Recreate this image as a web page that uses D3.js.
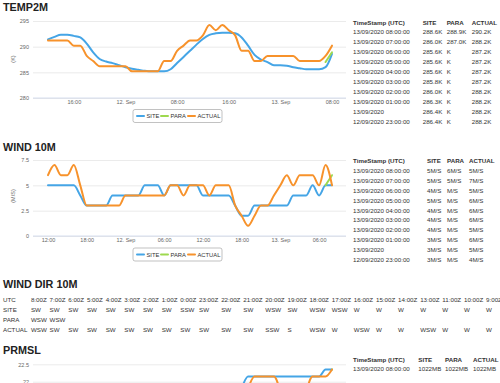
<!DOCTYPE html>
<html>
<head>
<meta charset="utf-8">
<script src="https://cdn.jsdelivr.net/npm/d3@7/dist/d3.min.js"></script>
<style>
body { margin:0; background:#fff; }
svg { display:block; font-family:"Liberation Sans", Arial, sans-serif; }
</style>
</head>
<body>
<svg width="500" height="383"></svg>
<script>
// hourly samples, 11 Sep 12:00 UTC .. 13 Sep 08:00 UTC
var times = d3.utcHour.range(new Date(Date.UTC(2020, 8, 11, 12)), new Date(Date.UTC(2020, 8, 13, 9)));
var seriesNames = ["SITE", "PARA", "ACTUAL"];
var colors = ["#45a5e6", "#9ed94f", "#f7922b"];

// TEMP2M (K)
var tempSite = [291.4, 291.9, 292.3, 292.3, 292.1, 291.8, 290.6, 288.9, 287.6, 287.1, 286.8, 286.4, 286.0,
  285.7, 285.5, 285.3, 285.2, 285.2, 285.2, 285.6, 286.8, 288.0, 289.2, 290.4, 291.5, 292.3, 292.6,
  292.7, 292.7, 292.6, 291.8, 290.2, 288.4, 287.5, 287.0, 286.4, 286.4, 286.3, 286.0, 285.8, 285.6,
  285.6, 285.6, 286.0, 288.6];
var tempPara = [null, null, null, null, null, null, null, null, null, null, null, null, null, null, null,
  null, null, null, null, null, null, null, null, null, null, null, null, null, null, null, null, null,
  null, null, null, null, null, null, null, null, null, null, null, 287.0, 288.9];
var tempActual = [291.2, 291.2, 291.2, 291.2, 290.2, 290.2, 288.2, 287.2, 286.2, 286.2, 286.2, 286.2,
  286.2, 285.2, 285.2, 285.2, 285.2, 285.2, 287.2, 287.2, 289.2, 290.2, 291.2, 291.2, 292.2, 294.2,
  293.2, 294.2, 293.2, 292.2, 289.2, 289.2, 287.2, 287.2, 288.2, 288.2, 288.2, 288.2, 288.2, 287.2,
  287.2, 287.2, 287.2, 288.2, 290.2];
var tempTicks = [280, 285, 290, 295];

// WIND 10M (M/S)
var windSite = [5, 5, 5, 5, 5, 4, 3, 3, 3, 3, 4, 4, 4, 4, 4, 5, 5, 5, 4, 5, 5, 5, 5, 5, 4, 4, 4, 4, 4,
  3, 2, 2, 3, 3, 3, 3, 3, 3, 4, 4, 4, 5, 4, 5, 5];
var windPara = [null, null, null, null, null, null, null, null, null, null, null, null, null, null, null,
  null, null, null, null, null, null, null, null, null, null, null, null, null, null, null, null, null,
  null, null, null, null, null, null, null, null, null, null, null, 5, 6];
var windActual = [6, 7, 6, 6, 7, 5, 3, 3, 3, 3, 3, 3, 4, 4, 4, 4, 4, 4, 4, 5, 5, 4, 5, 5, 5, 4, 5, 5, 5,
  3, 2, 1, 2, 3, 3, 4, 5, 6, 5, 6, 6, 6, 5, 7, 5];
var windTicks = [0, 2.5, 5, 7.5];

// WIND DIR 10M
var dirHours = ["8:00Z", "7:00Z", "6:00Z", "5:00Z", "4:00Z", "3:00Z", "2:00Z", "1:00Z", "0:00Z", "23:00Z",
  "22:00Z", "21:00Z", "20:00Z", "19:00Z", "18:00Z", "17:00Z", "16:00Z", "15:00Z", "14:00Z", "13:00Z",
  "11:00Z", "10:00Z", "9:00Z"];
var dirSite = ["SW", "SW", "SW", "SW", "SW", "SW", "SW", "SW", "SSW", "SW", "SW", "SW", "WSW", "SW", "WSW",
  "WSW", "W", "W", "W", "W", "W", "W", "W"];
var dirPara = ["WSW", "WSW"];
var dirActual = ["WSW", "SW", "SW", "SW", "SW", "SW", "SW", "SW", "SW", "SW", "SW", "SW", "SSW", "S", "WSW",
  "W", "WSW", "W", "W", "WSW", "W", "W", "W"];

// PRMSL (only the top of the chart is visible; unseen hours left null)
var prmslSite = [null, null, null, null, null, null, null, null, null, null, null, null, null, null, null,
  null, null, null, null, null, null, null, null, null, null, null, null, null, null, null, 21.8, 22.15,
  22.15, 22.15, 22.15, 22.15, 22.15, 22.15, 22.15, 22.15, 22.15, 22.15, 22.15, 22.35, 22.35];
var prmslPara = [null, null, null, null, null, null, null, null, null, null, null, null, null, null, null,
  null, null, null, null, null, null, null, null, null, null, null, null, null, null, null, null, null,
  null, null, null, null, null, null, null, null, null, null, null, null, 22.35];
var prmslActual = [null, null, null, null, null, null, null, null, null, null, null, null, null, null, null,
  null, null, null, null, null, null, null, null, null, null, null, null, null, null, null, null, 21.8,
  22.15, 22.15, 22.15, 22.15, 21.7, null, null, null, 21.7, 22.15, 22.15, 22.15, 22.35];
var prmslTicks = [22, 22.5];
var prmslTable = [["13/09/2020 08:00:00", "1022MB", "1022MB", "1022MB"]];

var svg = d3.select("svg");
var GX0 = 33, GX1 = 346;
var x = d3.scaleUtc().domain([times[0], times[times.length - 1]]).range([48, 332]);
var stampFmt = function(d) {
  return d.getUTCHours() == 0 ? d3.utcFormat("%d/%m/%Y")(d) : d3.utcFormat("%d/%m/%Y %H:%M:%S")(d);
};
var tickFmt = function(d) {
  return d.getUTCHours() == 0 ? d3.utcFormat("%-d. %b")(d) : d3.utcFormat("%H:%M")(d);
};

function title(txt, yb) {
  svg.append("text").attr("x", 3).attr("y", yb).text(txt)
    .style("font-size", "10.8px").style("font-weight", "bold").attr("fill", "#222");
}

function chart(cfg) {
  var g = svg.append("g");
  var y = d3.scaleLinear().domain(cfg.yDomain).range(cfg.yRange);
  g.append("g").attr("transform", "translate(" + GX0 + ",0)")
    .call(d3.axisLeft(y).tickValues(cfg.yTicks).tickSize(-(GX1 - GX0)).tickPadding(4).tickFormat(d3.format("~g")))
    .call(function(a) {
      a.select(".domain").remove();
      a.selectAll("line").attr("stroke", "#e6e6e6").attr("stroke-width", 0.8);
      a.selectAll("text").attr("fill", "#666").style("font-size", "5.5px").attr("font-family", null);
    });
  if (cfg.xTicks) {
    g.append("line").attr("x1", GX0).attr("x2", GX1)
      .attr("y1", cfg.yRange[0]).attr("y2", cfg.yRange[0]).attr("stroke", "#ccd6eb").attr("stroke-width", 0.8);
    g.append("g").attr("transform", "translate(0," + cfg.yRange[0] + ")")
      .call(d3.axisBottom(x).tickValues(x.ticks(cfg.xTicks)).tickSize(0).tickPadding(2).tickFormat(tickFmt))
      .call(function(a) {
        a.select(".domain").remove();
        a.selectAll("text").attr("fill", "#666").style("font-size", "5.5px").attr("font-family", null);
      });
  }
  if (cfg.yTitle) {
    g.append("text").attr("transform", "translate(15," + cfg.yTitleY + ") rotate(-90)")
      .attr("text-anchor", "middle").attr("fill", "#666").style("font-size", "5.5px").text(cfg.yTitle);
  }
  var line = d3.line()
    .defined(function(d) { return d != null; })
    .x(function(d, i) { return x(times[i]); })
    .y(function(d) { return y(d); })
    .curve(d3.curveMonotoneX);
  cfg.series.forEach(function(s, k) {
    g.append("path").datum(s).attr("d", line).attr("fill", "none")
      .attr("stroke", colors[k]).attr("stroke-width", 2)
      .attr("stroke-linejoin", "round").attr("stroke-linecap", "round");
  });
  if (cfg.legendY) {
    var ly = cfg.legendY;
    g.append("rect").attr("x", 133).attr("y", ly - 6.5).attr("width", 89).attr("height", 13).attr("rx", 2)
      .attr("fill", "#fff").attr("stroke", "#999").attr("stroke-width", 0.6);
    var lx = [137, 161, 188];
    seriesNames.forEach(function(n, k) {
      g.append("line").attr("x1", lx[k]).attr("x2", lx[k] + 7).attr("y1", ly).attr("y2", ly)
        .attr("stroke", colors[k]).attr("stroke-width", 2).attr("stroke-linecap", "round");
      g.append("text").attr("x", lx[k] + 9.5).attr("y", ly + 2).text(n)
        .attr("fill", "#333").style("font-size", "5.8px");
    });
  }
}

function table(cols, yHead, rows) {
  var g = svg.append("g").attr("fill", "#333").style("font-size", "6.2px");
  var head = ["TimeStamp (UTC)"].concat(seriesNames);
  head.forEach(function(h, c) {
    g.append("text").attr("x", cols[c]).attr("y", yHead).text(h).style("font-weight", "bold");
  });
  rows.forEach(function(r, i) {
    r.forEach(function(v, c) {
      g.append("text").attr("x", cols[c]).attr("y", yHead + 9.9 * (i + 1)).text(v);
    });
  });
}

function lastRows(arrs, unit, fmt) {
  var rows = [];
  for (var i = times.length - 1; i >= times.length - 10; i--) {
    rows.push([stampFmt(times[i])].concat(arrs.map(function(a) {
      return (a[i] == null ? "" : fmt(a[i])) + unit;
    })));
  }
  return rows;
}

// TEMP2M
title("TEMP2M", 10.5);
chart({ yDomain: [280, 295], yRange: [98, 21], yTicks: tempTicks, xTicks: d3.utcHour.every(8),
  yTitle: "(K)", yTitleY: 59, series: [tempSite, tempPara, tempActual], legendY: 116 });
table([353, 422.7, 446.7, 471.7], 24.5,
  lastRows([tempSite, tempPara, tempActual], "K", function(v) { return v.toFixed(1); }));

// WIND 10M
title("WIND 10M", 150.5);
chart({ yDomain: [0, 7.5], yRange: [236, 160], yTicks: windTicks, xTicks: d3.utcHour.every(6),
  yTitle: "(M/S)", yTitleY: 196, series: [windSite, windPara, windActual], legendY: 254.5 });
table([353, 427, 447, 469], 163,
  lastRows([windSite, windPara, windActual], "M/S", function(v) { return String(v); }));

// WIND DIR 10M
title("WIND DIR 10M", 287.5);
(function() {
  var g = svg.append("g").attr("fill", "#333").style("font-size", "6.2px");
  var labels = ["UTC", "SITE", "PARA", "ACTUAL"];
  var rowsY = [301.5, 311.5, 321.7, 332.2];
  var cols = [dirHours, dirSite, dirPara, dirActual];
  var lw = 0;
  labels.forEach(function(l, r) {
    var t = g.append("text").attr("x", 3).attr("y", rowsY[r]).text(l);
    lw = Math.max(lw, t.node().getComputedTextLength());
  });
  var cx = 3 + lw + 3.5;
  dirHours.forEach(function(h, c) {
    var w = 0;
    cols.forEach(function(arr, r) {
      if (arr[c] == null) return;
      var t = g.append("text").attr("x", cx).attr("y", rowsY[r]).text(arr[c]);
      w = Math.max(w, t.node().getComputedTextLength());
    });
    cx += w + 2.85;
  });
})();

// PRMSL
title("PRMSL", 353.5);
chart({ yDomain: [22, 22.5], yRange: [381.7, 364.3], yTicks: prmslTicks,
  series: [prmslSite, prmslPara, prmslActual] });
table([353, 418.3, 445, 473], 361.5, prmslTable);
</script>
</body>
</html>
